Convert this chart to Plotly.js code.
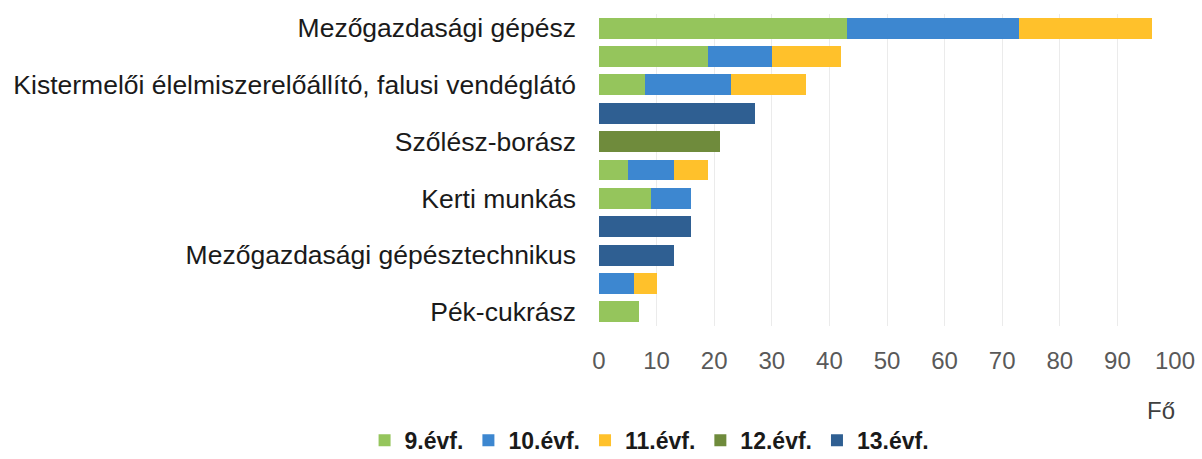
<!DOCTYPE html>
<html>
<head>
<meta charset="utf-8">
<script src="https://cdn.plot.ly/plotly-3.0.1.min.js"></script>
<style>html,body{margin:0;padding:0;background:#fff;}#chart{width:1202px;height:459px;}</style>
</head>
<body>
<div id="chart"></div>
<script>
// Row labels (only every other row is labelled in the original)
const rowLabels = [
  "Mezőgazdasági gépész", "",
  "Kistermelői élelmiszerelőállító, falusi vendéglátó", "",
  "Szőlész-borász", "",
  "Kerti munkás", "",
  "Mezőgazdasági gépésztechnikus", "",
  "Pék-cukrász"
];
const seriesNames = ["9.évf.", "10.évf.", "11.évf.", "12.évf.", "13.évf."];
const evf9  = [43, 19, 8, null, null, 5, 9, null, null, null, 7];
const evf10 = [30, 11, 15, null, null, 8, 7, null, null, 6, null];
const evf11 = [23, 12, 13, null, null, 6, null, null, null, 4, null];
const evf12 = [null, null, null, null, 21, null, null, null, null, null, null];
const evf13 = [null, null, null, 27, null, null, null, 16, 13, null, null];
const xTicks = [0, 10, 20, 30, 40, 50, 60, 70, 80, 90, 100];

const colors = ["#95c55c", "#3d87d0", "#ffc12b", "#6f8b3c", "#2f5f92"];
const values = [evf9, evf10, evf11, evf12, evf13];
const rows = rowLabels.map((_, i) => i);

const traces = values.map((v, k) => ({
  type: "bar",
  orientation: "h",
  name: seriesNames[k],
  y: rows,
  x: v,
  marker: {color: colors[k], line: {width: 0}},
  hoverinfo: "x+name"
}));

const tickIdx = rows.filter(i => rowLabels[i] !== "");

const layout = {
  width: 1202, height: 459,
  margin: {l: 599, r: 27, t: 14, b: 133},
  barmode: "stack",
  bargap: 0.26,
  paper_bgcolor: "#fff",
  plot_bgcolor: "#fff",
  font: {family: "Liberation Sans, Arial, sans-serif", color: "#262626"},
  xaxis: {
    range: [0, 100],
    tickvals: xTicks,
    showgrid: true, gridcolor: "#ebebeb", gridwidth: 1,
    zeroline: false, showline: false,
    ticks: "", ticklabelstandoff: 18,
    tickfont: {size: 24, color: "#595959"},
    automargin: false,
    fixedrange: true
  },
  yaxis: {
    range: [10.5, -0.5],
    tickvals: tickIdx,
    ticktext: tickIdx.map(i => rowLabels[i]),
    showgrid: false, zeroline: false, showline: false,
    ticks: "", ticklabelstandoff: 22,
    tickfont: {size: 26.5, color: "#1a1a1a"},
    automargin: false,
    fixedrange: true
  },
  annotations: [{
    text: "Fő", xref: "paper", yref: "paper",
    x: 0.975, y: -0.27, xanchor: "center", yanchor: "middle",
    showarrow: false, font: {size: 24, color: "#404040"}
  }],
  legend: {
    orientation: "h",
    xref: "container", yref: "container",
    x: 0.54, xanchor: "center",
    y: 0.041, yanchor: "middle",
    font: {size: 23, color: "#1a1a1a", weight: "bold"},
    itemwidth: 30,
    traceorder: "normal"
  },
  showlegend: true
};

Plotly.newPlot("chart", traces, layout, {displayModeBar: false, staticPlot: true});
</script>
</body>
</html>
